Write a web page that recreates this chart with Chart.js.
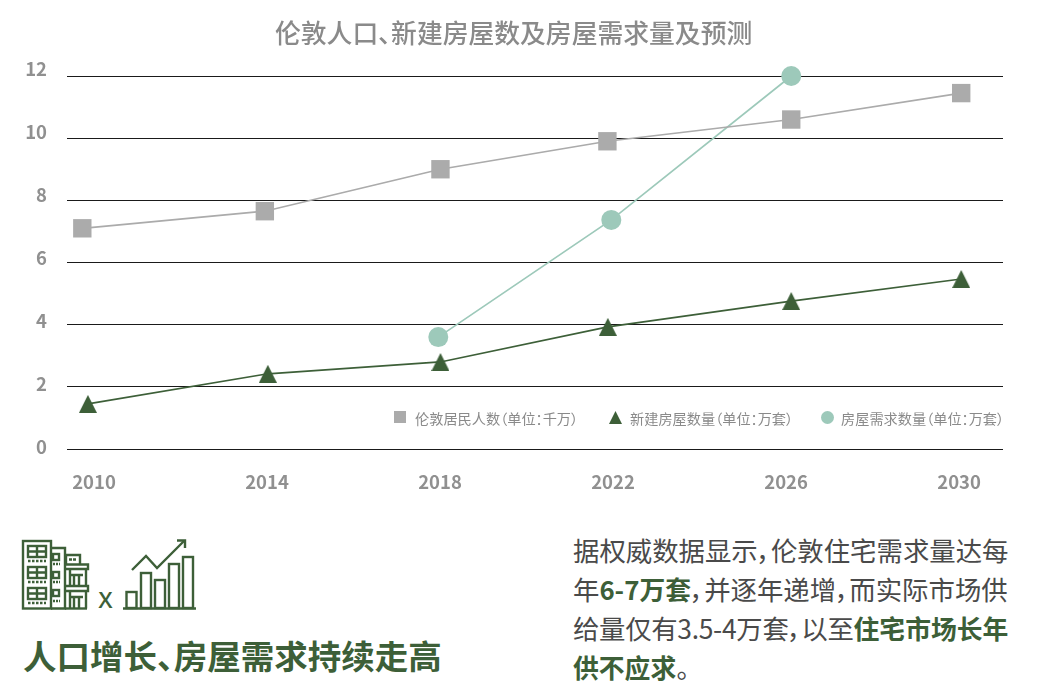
<!DOCTYPE html>
<html lang="zh">
<head>
<meta charset="utf-8">
<title>伦敦人口、新建房屋数及房屋需求量及预测</title>
<script src="https://cdn.jsdelivr.net/npm/chart.js@4"></script>
<style>
  html, body { margin: 0; padding: 0; background: #fff; }
  body { width: 1037px; height: 693px; position: relative; overflow: hidden; font-family: "Noto Sans CJK SC", sans-serif; font-feature-settings: "palt"; }
  #chart { position: absolute; left: 0; top: 0; }
  .abs { position: absolute; white-space: nowrap; }
  .title { left: 275px; top: 12px; font-size: 25.8px; line-height: 40px; font-weight: 500; color: #8a8a8a; }
  .legend { font-size: 14.2px; line-height: 20px; color: #8a8a8a; top: 408px; }
  .swatch { position: absolute; }
  .heading { left: 23px; top: 631px; font-size: 33.5px; line-height: 48px; font-weight: 700; color: #3d5f38; }
  .para { left: 573px; font-size: 26.4px; line-height: 38px; color: #4a4a4a; }
  .para b { color: #3d5f38; font-weight: 700; font-size: 25.8px; letter-spacing: 0; }
</style>
</head>
<body>
<canvas id="chart" width="1037" height="510"></canvas>
<div class="abs title" id="title"></div>

<div class="swatch" style="left:394px;top:411px;width:12px;height:12px;background:#ababab"></div>
<div class="abs legend" style="left:415px" id="leg0"></div>
<svg class="swatch" style="left:609px;top:411px" width="13" height="13"><polygon points="6.500,0 13,13 0,13" fill="#3d5f38"/></svg>
<div class="abs legend" style="left:630px" id="leg1"></div>
<div class="swatch" style="left:821px;top:411px;width:13px;height:13px;border-radius:50%;background:#9dc9ba"></div>
<div class="abs legend" style="left:841px" id="leg2"></div>

<svg class="abs" style="left:0;top:520px" width="210" height="100" viewBox="0 520 210 100" fill="none" stroke="#3d5f38" stroke-width="2.400">
  <!-- tower -->
  <rect x="23" y="541" width="28" height="67.500"/>
  <rect x="28" y="546" width="18" height="11"/><path d="M37 546V557M28 551.500H46"/>
  <path d="M28 561H46" stroke-dasharray="2.500 1.500"/>
  <rect x="28" y="567" width="18" height="11"/><path d="M37 567V578M28 572.500H46"/>
  <path d="M28 582H46" stroke-dasharray="2.500 1.500"/>
  <rect x="28" y="588" width="18" height="11"/><path d="M37 588V599M28 593.500H46"/>
  <path d="M28 603H46" stroke-dasharray="2.500 1.500"/>
  <!-- middle block -->
  <path d="M51 548H65V608.500H51"/>
  <rect x="53" y="554" width="6" height="6"/><path d="M53 564H60" stroke-dasharray="2 1"/>
  <rect x="53" y="572" width="6" height="6"/><path d="M53 582H60" stroke-dasharray="2 1"/>
  <rect x="53" y="590" width="6" height="6"/><path d="M53 601H60" stroke-dasharray="2 1"/>
  <!-- right block -->
  <path d="M66 564V555H80V564"/>
  <path d="M69 559.500H76" stroke-dasharray="3 1"/>
  <path d="M65 564.500H88V569H65"/>
  <path d="M70 569V586M86 569V586M74 575V586M79 575V586M70 575H83"/>
  <path d="M65 586H88V591H65"/>
  <path d="M70 591V608.500M86 591V608.500M74 597V608.500M79 597V608.500M70 597H83"/>
  <path d="M65 608.500H87"/>
  <!-- rising bars -->
  <path d="M123 608.500H196"/>
  <rect x="126.500" y="592" width="10" height="16"/>
  <rect x="141" y="573" width="10" height="35"/>
  <rect x="155" y="580" width="10" height="28"/>
  <rect x="169" y="564" width="10" height="44"/>
  <rect x="183" y="557" width="10" height="51"/>
  <path d="M132 570L146 556L157 568L184 541"/>
  <path d="M177 540.500H185V548"/>
</svg>
<div class="abs" style="left:98px;top:575px;font-size:30px;line-height:40px;color:#3d5f38">x</div>

<div class="abs heading">人口增长、房屋需求持续走高</div>
<div class="abs para" style="top:531px">据权威数据显示，伦敦住宅需求量达每</div>
<div class="abs para" style="top:570px">年<b>6-7万套</b>，并逐年递增，而实际市场供</div>
<div class="abs para" style="top:609px;letter-spacing:-0.3px">给量仅有3.5-4万套，以至<b>住宅市场长年</b></div>
<div class="abs para" style="top:648px"><b>供不应求</b>。</div>

<script>
const chartTitle = '伦敦人口、新建房屋数及房屋需求量及预测';
const xTicks = [2010, 2014, 2018, 2022, 2026, 2030];
const yTicks = [0, 2, 4, 6, 8, 10, 12];
const seriesNames = ['伦敦居民人数（单位：千万）', '新建房屋数量（单位：万套）', '房屋需求数量（单位：万套）'];

// markers sit a little off the year ticks in the original, so each series keeps its own x
const residentYears = [2009.73, 2013.95, 2018.01, 2021.87, 2026.12, 2030.05];
const residents = [7.1, 7.65, 9.0, 9.9, 10.6, 11.45];
const builtYears = [2009.86, 2014.02, 2018.01, 2021.88, 2026.12, 2030.05];
const built = [1.45, 2.42, 2.8, 3.93, 4.76, 5.47];
const demandYears = [2017.96, 2021.96, 2026.12];
const demand = [3.6, 7.37, 12];

const tickFont = '700 18.5px "Noto Sans CJK SC"';

const pairUp = (xs, ys) => xs.map((x, i) => ({ x: x, y: ys[i] }));

// chart.js triangles are lopsided around the point, this one is centred on it
function triangleMarker(size, color) {
  const c = document.createElement('canvas');
  c.width = size;
  c.height = size;
  const g = c.getContext('2d');
  g.fillStyle = color;
  g.beginPath();
  g.moveTo(size / 2, 0);
  g.lineTo(size, size);
  g.lineTo(0, size);
  g.closePath();
  g.fill();
  return c;
}

// y labels drift away from the gridlines towards the top of the axis in the original
const yLabels = {
  id: 'yLabels',
  afterDraw(chart) {
    const g = chart.ctx;
    const axis = chart.scales.y;
    g.save();
    g.font = tickFont;
    g.fillStyle = '#909090';
    g.textAlign = 'right';
    g.textBaseline = 'middle';
    yTicks.forEach((v) => {
      g.fillText(String(v), 47, axis.getPixelForValue(v) - 2 - v * 0.42);
    });
    g.restore();
  },
};

document.getElementById('title').textContent = chartTitle;
seriesNames.forEach((name, i) => {
  document.getElementById('leg' + i).textContent = name;
});

const ctx = document.getElementById('chart').getContext('2d');
new Chart(ctx, {
  type: 'line',
  plugins: [yLabels],
  data: {
    datasets: [
      {
        label: seriesNames[0],
        data: pairUp(residentYears, residents),
        borderColor: '#ababab',
        backgroundColor: '#ababab',
        borderWidth: 1.7,
        pointStyle: 'rect',
        pointRadius: 13,
        pointBorderWidth: 0,
      },
      {
        label: seriesNames[1],
        data: pairUp(builtYears, built),
        borderColor: '#3d5f38',
        backgroundColor: '#3d5f38',
        borderWidth: 1.7,
        pointStyle: triangleMarker(18, '#3d5f38'),
      },
      {
        label: seriesNames[2],
        data: pairUp(demandYears, demand),
        borderColor: '#9dc9ba',
        backgroundColor: '#9dc9ba',
        borderWidth: 1.7,
        pointStyle: 'circle',
        pointRadius: 10,
        pointBorderWidth: 0,
      },
    ],
  },
  options: {
    responsive: false,
    animation: false,
    clip: false,
    layout: { padding: { left: 25, right: 34, top: 76, bottom: 0 } },
    plugins: {
      legend: { display: false },
      tooltip: { enabled: false },
    },
    scales: {
      x: {
        type: 'linear',
        min: 2009.376,
        max: 2031.016,
        afterBuildTicks: (axis) => { axis.ticks = xTicks.map((v) => ({ value: v })); },
        afterFit: (axis) => { axis.height = 61; },
        grid: { display: false },
        border: { display: false },
        ticks: {
          color: '#909090',
          padding: 14,
          maxRotation: 0,
          font: { family: '"Noto Sans CJK SC"', size: 18.5, weight: '700' },
          callback: (v) => String(v),
        },
      },
      y: {
        min: 0,
        max: 12,
        afterBuildTicks: (axis) => { axis.ticks = yTicks.map((v) => ({ value: v })); },
        afterFit: (axis) => { axis.width = 42; },
        border: { display: false },
        grid: {
          drawTicks: false,
          lineWidth: 1,
          color: '#1a1a1a',
        },
        ticks: { display: false },
      },
    },
  },
});
</script>
</body>
</html>
